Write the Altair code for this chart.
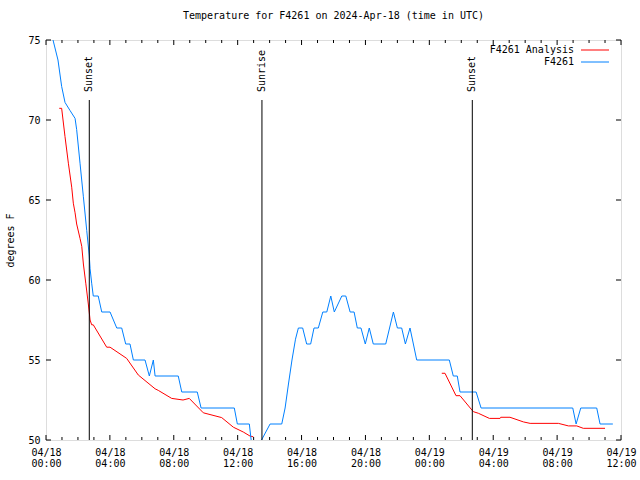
import altair as alt
import pandas as pd

# hours since 2024-04-18 00:00 UTC
blue_hours = [0.25, 0.44, 0.75, 0.98, 1.19, 1.50, 1.82, 1.92, 2.13, 2.34, 2.55, 2.71, 2.76, 2.86, 2.96,
              3.27, 3.49, 4.01, 4.43, 4.74, 4.99, 5.26, 5.47, 6.20, 6.47, 6.72, 6.83, 8.28, 8.50, 9.47,
              9.71, 11.79, 11.98, 12.73, 12.96, 14.03, 14.76, 14.97, 15.18, 15.40, 15.62, 15.80, 16.07,
              16.32, 16.57, 16.78, 17.05, 17.33, 17.58, 17.83, 18.05, 18.52, 18.77, 19.04, 19.29, 19.49,
              19.72, 19.99, 20.24, 20.49, 21.27, 21.75, 22.00, 22.27, 22.50, 22.79, 23.21, 25.25, 25.50,
              25.75, 25.92, 26.93, 27.24, 32.98, 33.19, 33.48, 34.48, 34.69, 35.49]
blue_temps = [75.8, 75.0, 73.75, 72.1, 71.1, 70.6, 70.1, 69.4, 67.3, 65.2, 63.1, 61.5, 60.7, 59.8, 59.0,
              59.0, 58.0, 58.0, 57.0, 57.0, 56.0, 56.0, 55.0, 55.0, 54.0, 55.0, 54.0, 54.0, 53.0, 53.0,
              52.0, 52.0, 51.0, 51.0, 49.0, 51.0, 51.0, 52.0, 53.5, 55.0, 56.3, 57.0, 57.0,
              56.0, 56.0, 57.0, 57.0, 58.0, 58.0, 59.0, 58.0, 59.0, 59.0, 58.0, 58.0, 57.0,
              57.0, 56.0, 57.0, 56.0, 56.0, 58.0, 57.0, 57.0, 56.0, 57.0, 55.0, 55.0, 54.0,
              54.0, 53.0, 53.0, 52.0, 52.0, 51.0, 52.0, 52.0, 51.0, 51.0]

red1_hours = [0.83, 0.98, 1.19, 1.40, 1.61, 1.71, 1.82, 1.92, 2.13, 2.24, 2.34, 2.49, 2.65, 2.76, 2.86,
              2.96, 3.80, 4.01, 5.05, 5.78, 6.83, 7.03, 7.87, 8.58, 8.97, 9.85, 11.00, 11.73, 12.35,
              12.77, 12.98]
red1_temps = [70.73, 70.73, 68.96, 67.3, 65.8, 64.8, 64.2, 63.5, 62.6, 62.1, 61.0, 59.8, 58.5, 57.5, 57.2,
              57.2, 55.8, 55.8, 55.1, 54.06, 53.2, 53.1, 52.6, 52.5, 52.6, 51.7, 51.4, 50.8, 50.5,
              50.25, 50.2]
red2_hours = [24.78, 24.98, 25.67, 25.92, 26.66, 26.76, 27.07, 27.76, 28.43, 28.47, 29.05, 29.89, 30.31,
              32.08, 32.71, 33.23, 33.64, 35.00]
red2_temps = [54.17, 54.17, 52.77, 52.77, 51.88, 51.77, 51.67, 51.35, 51.35, 51.42, 51.42, 51.13, 51.04,
              51.04, 50.88, 50.88, 50.73, 50.73]

event_names = ["Sunset", "Sunrise", "Sunset"]
event_hours = [2.71, 13.52, 26.69]

series_names = ["F4261 Analysis", "F4261"]
series_colors = ["#ff0000", "#0080ff"]

major_x = list(range(0, 37, 4))
minor_x = [h for h in range(0, 37) if h % 4 != 0]
y_ticks = [50, 55, 60, 65, 70, 75]

FONT = "DejaVu Sans Mono"
W, H = 575, 400

rows = []
for h, t in zip(red1_hours, red1_temps):
    rows.append({"h": h, "t": t, "series": series_names[0], "seg": "r1"})
for h, t in zip(red2_hours, red2_temps):
    rows.append({"h": h, "t": t, "series": series_names[0], "seg": "r2"})
for h, t in zip(blue_hours, blue_temps):
    rows.append({"h": h, "t": t, "series": series_names[1], "seg": "b"})
df = pd.DataFrame(rows)

xscale = alt.Scale(domain=[0, 36], nice=False, zero=False)
yscale = alt.Scale(domain=[50, 75], nice=False, zero=False)

label_expr = ("[datum.value < 24 ? '04/18' : '04/19', "
              "((datum.value % 24) < 10 ? '0' : '') + (datum.value % 24) + ':00']")

lines = alt.Chart(df).mark_line(strokeWidth=1, clip=True, interpolate="linear").encode(
    x=alt.X("h:Q", scale=xscale,
            axis=alt.Axis(values=major_x, labelExpr=label_expr, title=None, tickSize=0,
                          labelPadding=7, labelFont=FONT, labelFontSize=10, labelColor="black",
                          labelLineHeight=11, labelBaseline="top", domain=False, grid=False,
                          labelFlush=False, labelOverlap=False)),
    y=alt.Y("t:Q", scale=yscale,
            axis=alt.Axis(values=y_ticks, title="degrees F", tickSize=0, labelPadding=6,
                          labelFont=FONT, labelFontSize=10, labelColor="black",
                          titleFont=FONT, titleFontSize=10, titleFontWeight="normal",
                          titleColor="black", titlePadding=12, domain=False, grid=False)),
    color=alt.Color("series:N", scale=alt.Scale(domain=series_names, range=series_colors), legend=None),
    detail="seg:N",
    order="h:Q",
)

ev_df = pd.DataFrame({"h": event_hours, "name": event_names})
ev_rules = alt.Chart(ev_df).mark_rule(color="black", strokeWidth=1).encode(
    x=alt.X("h:Q", scale=xscale), y=alt.value(60), y2=alt.value(H))
ev_text = alt.Chart(ev_df).mark_text(angle=270, align="left", baseline="middle",
                                     font=FONT, fontSize=10, color="black").encode(
    x=alt.X("h:Q", scale=xscale), y=alt.value(52), text="name:N")

maj_df = pd.DataFrame({"h": major_x})
min_df = pd.DataFrame({"h": minor_x})
tick_layers = []
for d, ln in ((maj_df, 5), (min_df, 3)):
    tick_layers.append(alt.Chart(d).mark_rule(color="black").encode(
        x=alt.X("h:Q", scale=xscale), y=alt.value(H), y2=alt.value(H - ln)))
    tick_layers.append(alt.Chart(d).mark_rule(color="black").encode(
        x=alt.X("h:Q", scale=xscale), y=alt.value(0), y2=alt.value(ln)))
yt_df = pd.DataFrame({"t": y_ticks})
tick_layers.append(alt.Chart(yt_df).mark_rule(color="black").encode(
    y=alt.Y("t:Q", scale=yscale), x=alt.value(0), x2=alt.value(5)))
tick_layers.append(alt.Chart(yt_df).mark_rule(color="black").encode(
    y=alt.Y("t:Q", scale=yscale), x=alt.value(W - 5), x2=alt.value(W)))

leg_layers = []
for i, (name, col) in enumerate(zip(series_names, series_colors)):
    yy = 10 + 12 * i
    leg_df = pd.DataFrame({"name": [name]})
    leg_layers.append(alt.Chart(leg_df).mark_text(align="right", baseline="middle", font=FONT,
                                                  fontSize=10, color="black").encode(
        text="name:N", x=alt.value(528), y=alt.value(yy)))
    leg_layers.append(alt.Chart(leg_df).mark_rule(color=col, strokeWidth=1).encode(
        x=alt.value(535), x2=alt.value(563), y=alt.value(yy)))

chart = alt.layer(lines, ev_rules, ev_text, *tick_layers, *leg_layers).properties(
    width=W, height=H,
    title=alt.TitleParams("Temperature for F4261 on 2024-Apr-18 (time in UTC)", font=FONT,
                          fontSize=10, fontWeight="normal", color="black", offset=14, anchor="middle"),
    autosize=alt.AutoSizeParams(type="none"),
    padding={"left": 46, "top": 40, "right": 19, "bottom": 40},
).configure_view(stroke="black", strokeWidth=1).configure(background="white")

chart.save("out.html", embed_options={"renderer": "svg", "actions": False})
